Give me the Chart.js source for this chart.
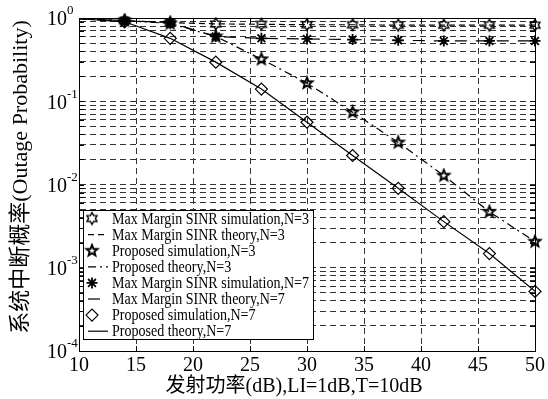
<!DOCTYPE html>
<html><head><meta charset="utf-8">
<script src="https://cdn.jsdelivr.net/npm/chart.js@4/dist/chart.umd.min.js"></script>
<style>html,body{margin:0;padding:0;background:#fff;}#wrap{width:548px;height:399px;}</style>
</head><body><div id="wrap"><canvas id="c" width="548" height="399"></canvas></div>
<script>
// ---- data ----
const theoryX = [10, 14, 18, 22, 26, 30, 34, 38, 42, 46, 50];
const simX = [14, 18, 22, 26, 30, 34, 38, 42, 46, 50];
const mmN3Sim = [0.93, 0.88, 0.85, 0.84, 0.83, 0.83, 0.82, 0.82, 0.82, 0.82];
const mmN3Theory = [0.98, 0.93, 0.88, 0.85, 0.84, 0.83, 0.83, 0.82, 0.82, 0.82, 0.82];
const propN3Sim = [0.93, 0.86, 0.6, 0.32, 0.165, 0.074, 0.032, 0.0128, 0.0047, 0.00206];
const propN3Theory = [0.98, 0.93, 0.86, 0.6, 0.32, 0.165, 0.074, 0.032, 0.0128, 0.0047, 0.00206];
const mmN7Sim = [0.93, 0.88, 0.6, 0.57, 0.56, 0.55, 0.54, 0.53, 0.53, 0.53];
const mmN7Theory = [0.98, 0.93, 0.88, 0.6, 0.57, 0.56, 0.55, 0.54, 0.53, 0.53, 0.53];
const propN7Sim = [0.9, 0.57, 0.295, 0.14, 0.056, 0.0223, 0.009, 0.00358, 0.00148, 0.00052];
const propN7Theory = [0.98, 0.9, 0.57, 0.295, 0.14, 0.056, 0.0223, 0.009, 0.00358, 0.00148, 0.00052];
const seriesLabels = [
  'Max Margin SINR simulation,N=3',
  'Max Margin SINR theory,N=3',
  'Proposed simulation,N=3',
  'Proposed theory,N=3',
  'Max Margin SINR simulation,N=7',
  'Max Margin SINR theory,N=7',
  'Proposed simulation,N=7',
  'Proposed theory,N=7'
];
const xTickValues = [10, 15, 20, 25, 30, 35, 40, 45, 50];
const yDecades = [1e-4, 1e-3, 1e-2, 1e-1, 1];
const yExponents = ['-4', '-3', '-2', '-1', '0'];
const xTitle = '发射功率(dB),LI=1dB,T=10dB';
const yTitle = '系统中断概率(Outage Probability)';

// ---- marker images ----
function starCanvas(points, outer, inner, lw, size) {
  const c = document.createElement('canvas');
  c.width = size; c.height = size;
  const g = c.getContext('2d');
  g.translate(size / 2, size / 2);
  g.beginPath();
  for (let i = 0; i < points * 2; i++) {
    const r = i % 2 === 0 ? outer : inner;
    const a = -Math.PI / 2 + i * Math.PI / points;
    const px = r * Math.cos(a), py = r * Math.sin(a);
    if (i === 0) g.moveTo(px, py); else g.lineTo(px, py);
  }
  g.closePath();
  g.lineWidth = lw; g.strokeStyle = '#000'; g.lineJoin = 'miter';
  g.stroke();
  return c;
}
const hexMarker = starCanvas(6, 5.8, 3.4, 1.4, 16);
const pentMarker = starCanvas(5, 5.8, 2.5, 1.9, 16);

function xy(xs, ys) { return xs.map((x, i) => ({x: x, y: ys[i]})); }

const simBase = {showLine: false, borderColor: '#000', backgroundColor: 'rgba(0,0,0,0)', clip: false};
const lineBase = {borderColor: '#000', borderWidth: 1.2, pointRadius: 0, fill: false, tension: 0};

const datasets = [
  Object.assign({label: seriesLabels[0], data: xy(simX, mmN3Sim), pointStyle: hexMarker, pointRadius: 5, legendKind: 'marker'}, simBase),
  Object.assign({label: seriesLabels[1], data: xy(theoryX, mmN3Theory), borderDash: [6, 4], legendKind: 'line'}, lineBase),
  Object.assign({label: seriesLabels[2], data: xy(simX, propN3Sim), pointStyle: pentMarker, pointRadius: 5, legendKind: 'marker'}, simBase),
  Object.assign({label: seriesLabels[3], data: xy(theoryX, propN3Theory), borderDash: [8, 4, 2, 4], legendKind: 'line'}, lineBase),
  Object.assign({label: seriesLabels[4], data: xy(simX, mmN7Sim), pointStyle: 'star', pointRadius: 5.5, pointBorderWidth: 1.8, legendKind: 'marker'}, simBase),
  Object.assign({label: seriesLabels[5], data: xy(theoryX, mmN7Theory), borderDash: [12, 9], legendKind: 'line'}, lineBase),
  Object.assign({label: seriesLabels[6], data: xy(simX, propN7Sim), pointStyle: 'rectRot', pointRadius: 6, pointBorderWidth: 1.2, legendKind: 'marker'}, simBase),
  Object.assign({label: seriesLabels[7], data: xy(theoryX, propN7Theory), borderDash: [], legendKind: 'line'}, lineBase)
];

const SERIF = '"Liberation Serif", "Times New Roman", "Noto Sans CJK SC", serif';

const framePlugin = {
  id: 'frame',
  afterDraw(chart) {
    const ctx = chart.ctx;
    const a = chart.chartArea;
    const xs = chart.scales.x, ys = chart.scales.y;
    ctx.save();
    // inner tick marks
    ctx.strokeStyle = '#000'; ctx.lineWidth = 1; ctx.setLineDash([]);
    ctx.beginPath();
    xs.ticks.forEach(t => {
      const px = Math.round(xs.getPixelForValue(t.value)) + 0.5;
      ctx.moveTo(px, a.bottom); ctx.lineTo(px, a.bottom - 5);
      ctx.moveTo(px, a.top); ctx.lineTo(px, a.top + 5);
    });
    ys.ticks.forEach(t => {
      const py = Math.round(ys.getPixelForValue(t.value)) + 0.5;
      ctx.moveTo(a.left, py); ctx.lineTo(a.left + 5, py);
      ctx.moveTo(a.right, py); ctx.lineTo(a.right - 5, py);
    });
    ctx.stroke();
    // frame
    ctx.strokeRect(Math.round(a.left) + 0.5, Math.round(a.top) + 0.5, Math.round(a.right - a.left), Math.round(a.bottom - a.top));
    // y tick labels 10^n
    ctx.fillStyle = '#000';
    yDecades.forEach((v, i) => {
      const py = ys.getPixelForValue(v);
      ctx.font = '20px ' + SERIF;
      ctx.textAlign = 'right'; ctx.textBaseline = 'middle';
      ctx.fillText('10', a.left - 12, py + 2);
      ctx.font = '13px ' + SERIF;
      ctx.textAlign = 'left';
      ctx.fillText(yExponents[i], a.left - 12, py - 7);
    });
    // axis titles
    ctx.font = '20px ' + SERIF;
    ctx.textAlign = 'center'; ctx.textBaseline = 'middle';
    ctx.fillText(xTitle, 294, 387);
    ctx.save();
    ctx.translate(21, 177);
    ctx.rotate(-Math.PI / 2);
    ctx.font = '22px ' + SERIF;
    ctx.fillText(yTitle, 0, 0);
    ctx.restore();
    // legend
    const bx = 83.5, by = 210.5, bw = 230, bh = 129;
    ctx.fillStyle = '#fff';
    ctx.fillRect(bx, by, bw, bh);
    ctx.strokeStyle = '#000'; ctx.lineWidth = 1;
    ctx.strokeRect(bx, by, bw, bh);
    ctx.font = '16px ' + SERIF;
    const sx = 197 / ctx.measureText(seriesLabels[0]).width;
    ctx.textAlign = 'left'; ctx.textBaseline = 'middle';
    chart.data.datasets.forEach((ds, i) => {
      const cy = 218.5 + i * 16.1;
      ctx.fillStyle = '#000';
      ctx.save();
      ctx.translate(112, cy + 1);
      ctx.scale(sx, 1);
      ctx.fillText(ds.label, 0, 0);
      ctx.restore();
      if (ds.legendKind === 'line') {
        ctx.save();
        ctx.setLineDash(ds.borderDash || []);
        ctx.lineWidth = 1.2;
        ctx.beginPath(); ctx.moveTo(88, cy); ctx.lineTo(108, cy); ctx.stroke();
        ctx.restore();
      } else {
        const ps = ds.pointStyle;
        if (typeof ps === 'string') {
          ctx.save();
          ctx.fillStyle = 'rgba(0,0,0,0)';
          ctx.strokeStyle = '#000'; ctx.lineWidth = ds.pointBorderWidth || 1;
          Chart.helpers.drawPoint(ctx, {pointStyle: ps, radius: ds.pointRadius, borderWidth: ds.pointBorderWidth || 1, rotation: 0}, 92, cy);
          ctx.restore();
        } else {
          ctx.drawImage(ps, 92 - ps.width / 2, cy - ps.height / 2);
        }
      }
    });
    ctx.restore();
  }
};

new Chart(document.getElementById('c'), {
  type: 'line',
  data: {datasets: datasets},
  options: {
    responsive: false,
    animation: false,
    devicePixelRatio: 1,
    layout: {padding: {top: 18, right: 10, left: 0, bottom: 0}},
    plugins: {legend: {display: false}, tooltip: {enabled: false}},
    scales: {
      x: {
        type: 'linear', min: 10, max: 50,
        afterBuildTicks: s => { s.ticks = xTickValues.map(v => ({value: v})); },
        afterFit: s => { s.height = 48; },
        grid: {color: '#333', lineWidth: 1, drawTicks: false},
        border: {dash: [6, 4], color: '#000'},
        ticks: {color: '#000', padding: 3, font: {family: SERIF, size: 20}, maxRotation: 0},
        title: {display: false}
      },
      y: {
        type: 'logarithmic', min: 1e-4, max: 1,
        afterBuildTicks: s => {
          const t = [];
          for (let d = 0; d < yDecades.length - 1; d++) {
            for (let m = 1; m < 10; m++) t.push({value: yDecades[d] * m});
          }
          t.push({value: yDecades[yDecades.length - 1]});
          s.ticks = t;
        },
        afterFit: s => { s.width = 79; },
        grid: {color: '#333', lineWidth: 1, drawTicks: false},
        border: {dash: [6, 4], color: '#000'},
        ticks: {display: false},
        title: {display: false}
      }
    }
  },
  plugins: [framePlugin]
});
</script>
</body></html>
